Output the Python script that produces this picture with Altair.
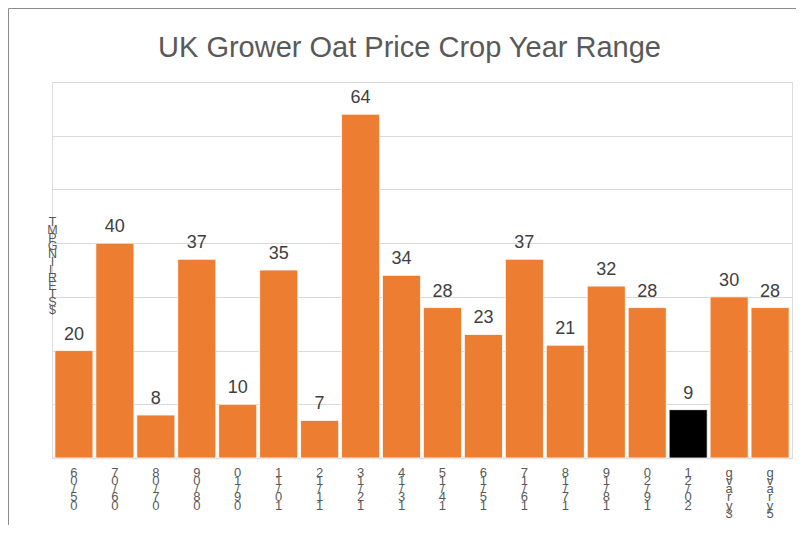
import altair as alt
import pandas as pd

seasons = ["05/06", "06/07", "07/08", "08/09", "09/10", "10/11", "11/12", "12/13",
           "13/14", "14/15", "15/16", "16/17", "17/18", "18/19", "19/20", "20/21",
           "3yr avg", "5yr avg"]
prices = [20, 40, 8, 37, 10, 35, 7, 64, 34, 28, 23, 37, 21, 32, 28, 9, 30, 28]
highlight = "20/21"
chart_title = "UK Grower Oat Price Crop Year Range"
y_title = ["T", "M", "P", " ", "G", "N", "I", "L", "R", "E", "T", "S", "$"]

df = pd.DataFrame({"season": seasons, "price": prices})

FONT = "Liberation Sans Narrow, Liberation Sans, Arial"
W, H = 740, 376

x_enc = alt.X("season:N", sort=seasons,
              scale=alt.Scale(paddingInner=0.07, paddingOuter=0.07),
              axis=alt.Axis(title=None, labelAngle=0,
                            labelExpr="reverse(split(datum.label, ''))",
                            labelFontSize=13, labelLineHeight=8.3,
                            labelColor="#595959", labelFont=FONT,
                            labelPadding=8, labelBaseline="top",
                            ticks=False, domainColor="#d9d9d9", domainWidth=1.5))
y_enc = alt.Y("price:Q", scale=alt.Scale(domain=[0, 70]),
              axis=alt.Axis(values=[0, 10, 20, 30, 40, 50, 60, 70], labels=False,
                            ticks=False, domain=False, gridColor="#d9d9d9",
                            title=y_title, titleAngle=0, titleX=0, titleY=133,
                            titleAlign="center", titleBaseline="top",
                            titleLineHeight=8, titleFontSize=12.5,
                            titleFontWeight="normal", titleColor="#595959",
                            titleFont=FONT))

base = alt.Chart(df)

bars = base.mark_bar(stroke="white", strokeWidth=0.8).encode(
    x=x_enc, y=y_enc,
    color=alt.condition(alt.datum.season == highlight,
                        alt.value("#000000"), alt.value("#ED7D31")))

labels = base.mark_text(baseline="bottom", dy=-7, fontSize=18,
                        color="#404040", font=FONT).encode(
    x=alt.X("season:N", sort=seasons), y=alt.Y("price:Q"), text="price:Q")

single = alt.Chart(pd.DataFrame({"a": [0]}))

border = single.mark_rect(fill=None, stroke="#8c8c8c", strokeWidth=1).encode(
    x=alt.value(-43.5), x2=alt.value(1000), y=alt.value(-73.5), y2=alt.value(1000))

title = single.mark_text(fontSize=29, font=FONT, color="#595959",
                         align="center", baseline="alphabetic").encode(
    x=alt.value(357.5), y=alt.value(-25), text=alt.value(chart_title))

chart = alt.layer(border, bars, labels, title).properties(
    width=W, height=H,
    autosize=alt.AutoSizeParams(type="none"),
    padding={"left": 44, "top": 74, "right": 4, "bottom": 67},
).configure_view(stroke=None).configure(background="white")

chart.save("out.html", embed_options={"renderer": "svg", "actions": False})
